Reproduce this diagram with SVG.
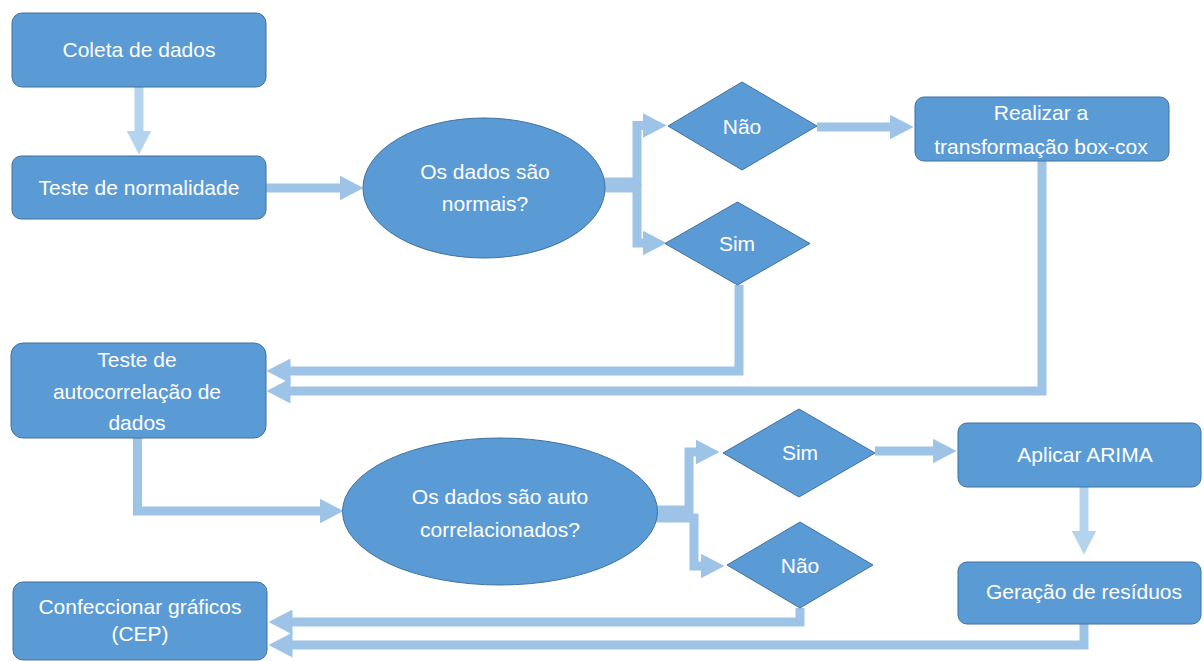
<svg xmlns="http://www.w3.org/2000/svg" width="1204" height="661" viewBox="0 0 1204 661">
  <defs>
    <style>
      .node { fill: #5B9BD5; stroke: #41719C; stroke-width: 1; }
      .lbl { fill: #FFFFFF; font-family: "Liberation Sans", Arial, sans-serif; font-size: 21px; text-anchor: middle; }
      .conn { fill: none; stroke: #9DC3E6; stroke-width: 9; stroke-linejoin: miter; stroke-linecap: butt; }
      .connL { fill: none; stroke: #B4D3EF; stroke-width: 9; stroke-linecap: butt; }
    </style>
    <marker id="ah" markerUnits="userSpaceOnUse" viewBox="0 0 24 25" markerWidth="24" markerHeight="25" refX="0.5" refY="12.5" orient="auto">
      <path d="M0,0 L24,12.5 L0,25 Z" fill="#9DC3E6"/>
    </marker>
    <marker id="ahL" markerUnits="userSpaceOnUse" viewBox="0 0 24 25" markerWidth="24" markerHeight="25" refX="0.5" refY="12.5" orient="auto">
      <path d="M0,0 L24,12.5 L0,25 Z" fill="#B4D3EF"/>
    </marker>
  </defs>
  <rect width="1204" height="661" fill="#FFFFFF"/>

  <g id="connectors">
    <path class="connL" d="M139,87 V131" marker-end="url(#ahL)"/>
    <path class="conn" d="M266,188 H340" marker-end="url(#ah)"/>
    <path class="conn" d="M600,182 H637 V125.5 H643" marker-end="url(#ah)"/>
    <path class="conn" d="M600,188 H637 V243 H643" marker-end="url(#ah)"/>
    <path class="conn" d="M817,127 H890" marker-end="url(#ah)"/>
    <path class="conn" d="M739,285 V371 H290" marker-end="url(#ah)"/>
    <path class="conn" d="M1042,161 V391 H290" marker-end="url(#ah)"/>
    <path class="conn" d="M137.5,438 V511 H320" marker-end="url(#ah)"/>
    <path class="conn" d="M652,510 H689 V452 H696" marker-end="url(#ah)"/>
    <path class="conn" d="M652,518 H694 V566 H701" marker-end="url(#ah)"/>
    <path class="conn" d="M875,451 H933" marker-end="url(#ah)"/>
    <path class="connL" d="M1084,487 V531" marker-end="url(#ahL)"/>
    <path class="conn" d="M800,608 V622 H292" marker-end="url(#ah)"/>
    <path class="conn" d="M1084,624 V645 H292" marker-end="url(#ah)"/>
  </g>

  <g id="coleta">
    <rect class="node" x="12" y="13" width="254" height="74" rx="10"/>
    <text class="lbl" x="139" y="57">Coleta de dados</text>
  </g>
  <g id="normalidade">
    <rect class="node" x="12" y="156" width="254" height="63" rx="9"/>
    <text class="lbl" x="139" y="195">Teste de normalidade</text>
  </g>
  <g id="normais">
    <ellipse class="node" cx="484" cy="188" rx="121" ry="70"/>
    <text class="lbl" x="485" y="179">Os dados são</text>
    <text class="lbl" x="485" y="211">normais?</text>
  </g>
  <g id="nao1">
    <polygon class="node" points="668,126 742,82 817,126 742,170"/>
    <text class="lbl" x="742" y="134">Não</text>
  </g>
  <g id="sim1">
    <polygon class="node" points="665,243.5 737.5,202 810,243.5 737.5,285"/>
    <text class="lbl" x="737" y="251">Sim</text>
  </g>
  <g id="boxcox">
    <rect class="node" x="915" y="97" width="254" height="64" rx="9"/>
    <text class="lbl" x="1041" y="120">Realizar a</text>
    <text class="lbl" x="1041" y="154">transformação box-cox</text>
  </g>
  <g id="autocorr">
    <rect class="node" x="11" y="343" width="255" height="95" rx="12"/>
    <text class="lbl" x="137" y="367">Teste de</text>
    <text class="lbl" x="137" y="399">autocorrelação de</text>
    <text class="lbl" x="137" y="430">dados</text>
  </g>
  <g id="autocorrelacionados">
    <ellipse class="node" cx="500" cy="511.5" rx="157.5" ry="73.5"/>
    <text class="lbl" x="500" y="504">Os dados são auto</text>
    <text class="lbl" x="500" y="537">correlacionados?</text>
  </g>
  <g id="sim2">
    <polygon class="node" points="723,453 799,409 875,453 799,497"/>
    <text class="lbl" x="800" y="460">Sim</text>
  </g>
  <g id="nao2">
    <polygon class="node" points="727,565 800,522 873,565 800,608"/>
    <text class="lbl" x="800" y="573">Não</text>
  </g>
  <g id="arima">
    <rect class="node" x="958" y="423" width="243" height="64" rx="9"/>
    <text class="lbl" x="1085" y="462">Aplicar ARIMA</text>
  </g>
  <g id="residuos">
    <rect class="node" x="958" y="562" width="243" height="62" rx="9"/>
    <text class="lbl" x="1084" y="599">Geração de resíduos</text>
  </g>
  <g id="cep">
    <rect class="node" x="13" y="582" width="254" height="78" rx="10"/>
    <text class="lbl" x="140" y="614">Confeccionar gráficos</text>
    <text class="lbl" x="140" y="641">(CEP)</text>
  </g>
</svg>
